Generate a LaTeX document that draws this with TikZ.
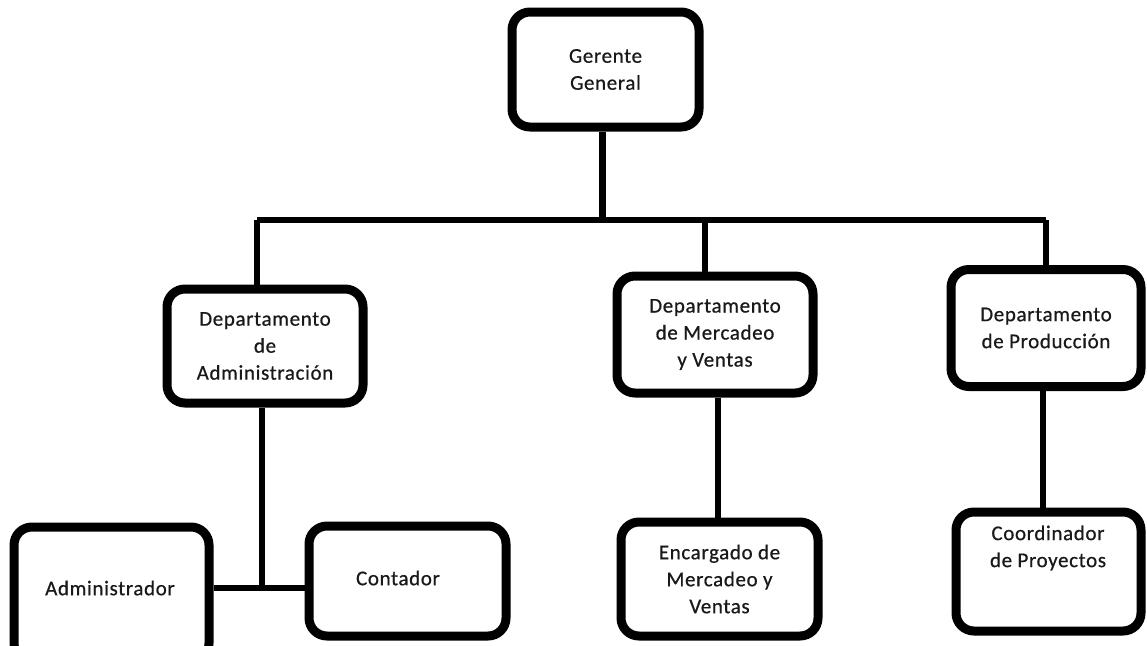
\documentclass[tikz,border=0pt]{standalone}
\usepackage{fontspec}
\setmainfont{Carlito}[LetterSpace=3, FakeBold=0.6]
\begin{document}
\begin{tikzpicture}[x=1pt,y=-1pt,
  box/.style={draw=black, line width=9pt, rounded corners=18pt, fill=white,
    align=center, inner sep=0pt, font=\fontsize{21}{27}\selectfont, text=black!90},
  txt/.style={align=center, inner sep=0pt, font=\fontsize{21}{27}\selectfont, text=black!90},
  conn/.style={draw=black, line width=6.5pt}]
\fill[white] (0,0) rectangle (1147,645);
\useasboundingbox (0,0) rectangle (1147,645);

% boxes
\node[box, minimum width=187pt, minimum height=115pt] (gg) at (605.5,69.5) {Gerente\\General};
\node[box, minimum width=196pt, minimum height=114pt] (da) at (265,346) {Departamento\\de\\Administración};
\node[box, minimum width=196pt, minimum height=117pt] (dm) at (715,334.5) {Departamento\\de Mercadeo\\y Ventas};
\node[box, minimum width=190pt, minimum height=117pt] (dp) at (1046,328) {Departamento\\de Producción};
\node[box, minimum width=195pt, minimum height=134pt] (ad) at (111.5,594) {};
\node[txt] (adt) at (110,588) {Administrador};
\node[box, minimum width=197pt, minimum height=110pt] (ct) at (407.5,581) {};
\node[txt] (ctt) at (398,578) {Contador};
\node[box, minimum width=197pt, minimum height=114pt] (en) at (719.5,579) {Encargado de\\Mercadeo y\\Ventas};
\node[box, minimum width=185pt, minimum height=119pt] (co) at (1048.5,571.5) {};
\node[txt] (cot) at (1048,548) {Coordinador\\de Proyectos};

% connectors
\coordinate (busL) at (257,220);
\coordinate (busR) at (1046,220);
\coordinate (j) at (262,588);
\path[conn] (busL) -- (busR);
\path[conn] ([xshift=-3pt]gg.south) -- ([xshift=-3pt]gg.south |- busL);
\path[conn] (busL) -- (busL |- da.north);
\path[conn] ([xshift=-10pt]dm.north) -- ([xshift=-10pt]dm.north |- busL);
\path[conn] (busR) -- (dp.north);
\path[conn] ([xshift=-3pt]da.south) -- (j);
\path[conn] (ad.east |- j) -- (ct.west |- j);
\path[conn] ([xshift=3pt]dm.south) -- ([xshift=3pt]dm.south |- en.north);
\path[conn] ([xshift=-3pt]dp.south) -- ([xshift=-3pt]dp.south |- co.north);
\end{tikzpicture}
\end{document}
